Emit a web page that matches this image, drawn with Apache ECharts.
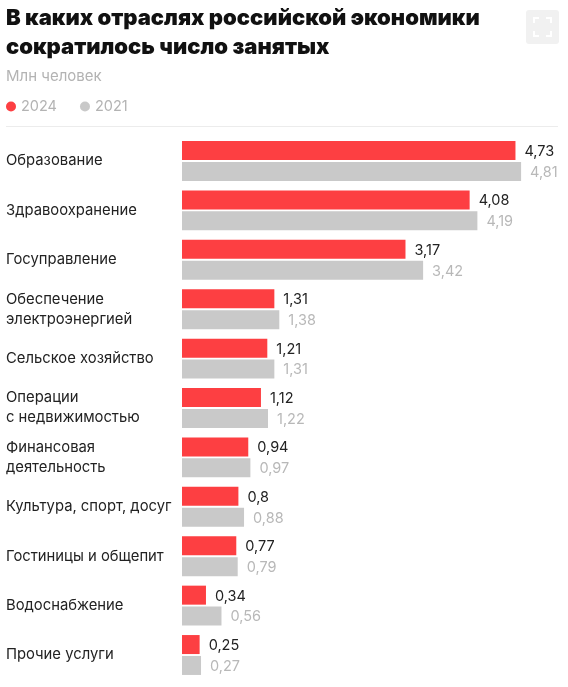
<!DOCTYPE html>
<html>
<head>
<meta charset="utf-8">
<style>
html, body { margin: 0; padding: 0; background: #fff; }
#chart { width: 568px; height: 687px; }
</style>
<script src="https://cdn.jsdelivr.net/npm/echarts@6/dist/echarts.min.js"></script>
</head>
<body>
<div id="chart"></div>
<script>
var categories = ['Образование', 'Здравоохранение', 'Госуправление', 'Обеспечение\nэлектроэнергией',
    'Сельское хозяйство', 'Операции\nс недвижимостью', 'Финансовая\nдеятельность',
    'Культура, спорт, досуг', 'Гостиницы и общепит', 'Водоснабжение', 'Прочие услуги'];
var values2024 = [4.73, 4.08, 3.17, 1.31, 1.21, 1.12, 0.94, 0.8, 0.77, 0.34, 0.25];
var values2021 = [4.81, 4.19, 3.42, 1.38, 1.31, 1.22, 0.97, 0.88, 0.79, 0.56, 0.27];

var font = 'Inter, Roboto, sans-serif';

function commaLabel(p) {
    return String(p.value).replace('.', ',');
}

var chart = echarts.init(document.getElementById('chart'));
chart.setOption({
    animation: false,
    backgroundColor: '#fff',
    textStyle: { fontFamily: font },
    title: [{
        text: 'В каких отраслях российской экономики\nсократилось число занятых',
        left: 1, top: -1,
        textStyle: { fontFamily: font, fontSize: 22, fontWeight: 900, color: '#111', lineHeight: 29 }
    }, {
        text: 'Млн человек',
        left: 1, top: 64,
        textStyle: { fontFamily: font, fontSize: 15, fontWeight: 400, color: '#b3b3b3' }
    }],
    legend: {
        left: 1, top: 94,
        icon: 'circle',
        itemWidth: 10, itemHeight: 10, itemGap: 23,
        data: ['2024', '2021'],
        textStyle: { fontFamily: font, fontSize: 14.5, color: '#b3b3b3', padding: [0, 0, 0, 0] }
    },
    grid: { left: 182, top: 136.3, width: 380.7, height: 543.4 },
    xAxis: { type: 'value', min: 0, max: 5.4, show: false },
    yAxis: {
        type: 'category',
        inverse: true,
        data: categories,
        axisLine: { show: false },
        axisTick: { show: false },
        axisLabel: {
            align: 'left', margin: 176,
            fontFamily: font, fontSize: 14.8, color: '#222', lineHeight: 20,
            padding: [3, 0, 0, 0]
        }
    },
    series: [{
        name: '2024', type: 'bar', data: values2024,
        barWidth: 19, barGap: '10%',
        itemStyle: { color: '#fd3f42' },
        label: { show: true, position: 'right', distance: 9, formatter: commaLabel,
            fontFamily: font, fontSize: 14.5, color: '#222', offset: [0, 1] }
    }, {
        name: '2021', type: 'bar', data: values2021,
        barWidth: 19,
        itemStyle: { color: '#c9c9c9' },
        label: { show: true, position: 'right', distance: 9, formatter: commaLabel,
            fontFamily: font, fontSize: 14.5, color: '#b8b8b8', offset: [0, 1] }
    }],
    graphic: [
        { type: 'rect', shape: { x: 6, y: 126, width: 552, height: 1 }, style: { fill: '#ececec' } },
        { type: 'rect', shape: { x: 526, y: 10, width: 33, height: 34, r: 3 }, style: { fill: '#f1f1f1' } },
        { type: 'polyline', shape: { points: [[534, 23], [534, 18], [539, 18]] }, style: { stroke: '#fff', lineWidth: 2, fill: null } },
        { type: 'polyline', shape: { points: [[546, 18], [551, 18], [551, 23]] }, style: { stroke: '#fff', lineWidth: 2, fill: null } },
        { type: 'polyline', shape: { points: [[534, 31], [534, 36], [539, 36]] }, style: { stroke: '#fff', lineWidth: 2, fill: null } },
        { type: 'polyline', shape: { points: [[546, 36], [551, 36], [551, 31]] }, style: { stroke: '#fff', lineWidth: 2, fill: null } }
    ]
});
</script>
</body>
</html>
